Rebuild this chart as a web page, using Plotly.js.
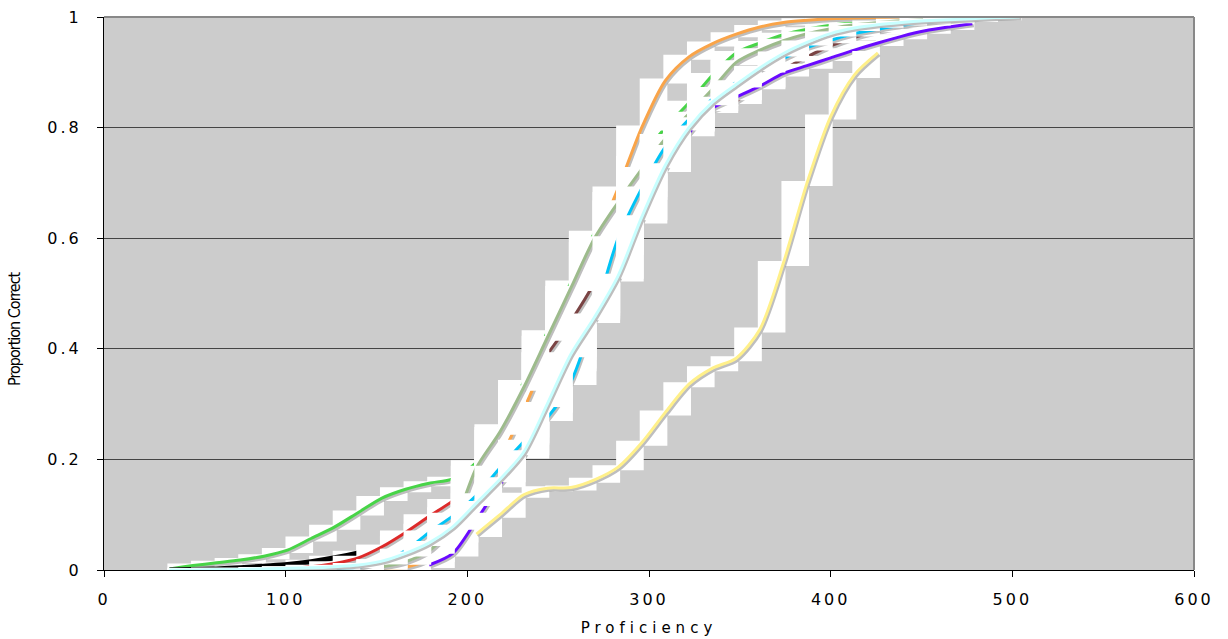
<!DOCTYPE html>
<html>
<head>
<meta charset="utf-8">
<script src="https://cdn.plot.ly/plotly-3.0.1.min.js"></script>
<style>
  html, body { margin: 0; padding: 0; background: #fff; }
  #chart { width: 1228px; height: 639px; }
  .xtick text, .ytick text { letter-spacing: 3px; }
  .g-xtitle text { letter-spacing: 5px; }
  .annotation-text { letter-spacing: -1px; }
</style>
</head>
<body>
<div id="chart"></div>
<script>
// Proficiency grid shared by every curve
const proficiency = [36,49,62,75,88,101,114,127,140,153,166,179,192,205,218,231,244,257,270,283,296,309,322,335,348,361,374,387,400,413,426,439,452,465,478,491,504];

// Proportion correct, one array per curve (null = no point)
const greenCurve = [0.002,0.008,0.013,0.018,0.025,0.036,0.057,0.078,0.104,0.13,0.146,0.157,0.165,0.195,0.26,0.34,0.43,0.52,0.61,0.68,0.745,0.80,0.845,0.895,0.935,0.953,0.968,0.978,0.985,0.99,0.993,0.995,0.997,0.998,null,null,null];
const blackCurve = [0,0.001,0.002,0.004,0.007,0.01,0.015,0.022,0.031,0.042,0.058,0.08,0.11,0.15,0.19,0.235,0.29,0.365,0.465,0.575,0.675,0.75,0.798,0.845,0.878,0.903,0.923,0.94,0.955,0.967,0.976,0.983,0.988,0.992,null,null,null];
const redCurve = [null,null,null,null,0.001,0.003,0.006,0.012,0.022,0.042,0.068,0.097,0.125,0.16,0.2,0.245,0.3,0.37,0.47,0.58,0.68,0.755,0.8,0.845,0.878,0.903,0.923,0.94,0.955,0.967,0.976,0.983,0.988,0.992,null,null,null];
const orangeCurve = [null,null,null,null,null,null,null,null,null,0.001,0.005,0.02,0.055,0.12,0.2,0.29,0.39,0.5,0.59,0.69,0.8,0.885,0.928,0.952,0.969,0.982,0.99,0.994,0.997,0.998,0.999,1.0,1.0,1.0,1.0,null,null];
const brownCurve = [null,null,null,null,null,null,null,null,0.002,0.008,0.025,0.055,0.1,0.16,0.255,0.33,0.39,0.45,0.52,0.61,0.71,0.785,0.818,0.832,0.848,0.878,0.905,0.928,0.948,0.963,0.974,0.983,0.99,0.994,0.997,null,null];
const purpleCurve = [null,null,null,null,null,null,null,null,null,null,null,0.009,0.03,0.09,0.155,0.207,0.293,0.385,0.452,0.527,0.632,0.725,0.79,0.835,0.855,0.875,0.898,0.912,0.926,0.94,0.953,0.965,0.975,0.982,0.988,null,null];
const sageCurve = [null,null,null,null,null,null,null,null,0.002,0.006,0.015,0.035,0.08,0.185,0.25,0.33,0.42,0.51,0.60,0.665,0.725,0.78,0.825,0.87,0.918,0.94,0.957,0.97,0.979,0.986,0.99,0.993,0.995,0.997,0.998,null,null];
const cyanCurve = [null,null,null,null,null,null,null,0.001,0.005,0.016,0.035,0.068,0.098,0.135,0.185,0.232,0.275,0.34,0.46,0.6,0.69,0.765,0.815,0.852,0.882,0.905,0.925,0.945,0.958,0.97,0.978,0.985,0.99,0.994,0.997,0.999,null];
const yellowCurve = [null,null,null,null,null,null,null,null,null,null,null,null,null,0.065,0.1,0.136,0.148,0.149,0.163,0.186,0.23,0.285,0.336,0.365,0.383,0.435,0.555,0.70,0.82,0.895,0.935,null,null,null,null,null,null];
const lightCyanCurve = [0,0,0.001,0.001,0.002,0.003,0.004,0.006,0.009,0.016,0.03,0.049,0.078,0.121,0.164,0.213,0.30,0.39,0.457,0.532,0.638,0.732,0.80,0.846,0.878,0.908,0.934,0.954,0.97,0.98,0.986,0.99,0.993,0.995,0.997,0.999,1.0];

// draw order (first = bottom)
const curves = [
  {y: greenCurve, color: '#48D448', w: 3},
  {y: blackCurve, color: '#000000', w: 5},
  {y: redCurve, color: '#DD2A2A', w: 3},
  {y: orangeCurve, color: '#F9A449', w: 3},
  {y: brownCurve, color: '#7A4444', w: 3},
  {y: purpleCurve, color: '#6A0AFF', w: 3},
  {y: sageCurve, color: '#9DBB8C', w: 3},
  {y: cyanCurve, color: '#00C4F6', w: 3},
  {y: yellowCurve, color: '#FFF08A', w: 3},
  {y: lightCyanCurve, color: '#C8FFFF', w: 3}
];

const pxX = 600 / 1090, pxY = 1 / 553;
const traces = [];
curves.forEach(c => {
  // white segment boxes
  const bx = [], by = [];
  for (let i = 0; i < proficiency.length - 1; i++) {
    const a = c.y[i], b = c.y[i + 1];
    if (a === null || b === null) continue;
    const x0 = proficiency[i] - 2 * pxX, x1 = proficiency[i + 1] + 2 * pxX;
    const lo = Math.min(a, b) - 3 * pxY, hi = Math.max(a, b) + 2 * pxY;
    bx.push(x0, x1, x1, x0, x0, null);
    by.push(lo, lo, hi, hi, lo, null);
  }
  traces.push({x: bx, y: by, mode: 'lines', fill: 'toself', fillcolor: '#FFFFFF',
    line: {width: 0, color: 'rgba(0,0,0,0)'}, hoverinfo: 'skip', showlegend: false});
  // shadow
  const sx = [], sy = [];
  proficiency.forEach((x, i) => { sx.push(c.y[i] === null ? null : x + 1.5 * pxX); sy.push(c.y[i] === null ? null : c.y[i] - 2 * pxY); });
  traces.push({x: sx, y: sy, mode: 'lines', line: {color: 'rgba(110,110,110,0.45)', width: c.w, shape: 'spline', smoothing: 0.8},
    hoverinfo: 'skip', showlegend: false});
  // curve
  traces.push({x: proficiency, y: c.y, mode: 'lines', line: {color: c.color, width: c.w, shape: 'spline', smoothing: 0.8},
    showlegend: false});
});

const layout = {
  width: 1228, height: 639,
  margin: {l: 104, r: 34, t: 17, b: 69, pad: 0},
  paper_bgcolor: '#FFFFFF', plot_bgcolor: '#CCCCCC',
  showlegend: false,
  xaxis: {
    range: [0, 600], tick0: 0, dtick: 100, showgrid: false, zeroline: false,
    showline: true, linecolor: '#000000', linewidth: 1,
    ticks: 'outside', ticklen: 6, tickcolor: '#000000',
    ticklabelstandoff: 9,
    tickfont: {family: 'DejaVu Sans', size: 16, color: '#000000'},
    title: {text: 'Proficiency', font: {family: 'DejaVu Sans', size: 15, color: '#000000'}, standoff: 14}
  },
  yaxis: {
    range: [0, 1], tick0: 0, dtick: 0.2, showgrid: true, gridcolor: '#444444', gridwidth: 1,
    zeroline: false, showline: true, linecolor: '#000000', linewidth: 1,
    ticks: 'outside', ticklen: 6, tickcolor: '#000000',
    ticklabelstandoff: 12,
    tickfont: {family: 'DejaVu Sans', size: 16, color: '#000000'}
  },
  shapes: [
    {type: 'line', xref: 'paper', yref: 'paper', x0: 0, x1: 1, y0: 1, y1: 1, line: {color: '#888888', width: 2}},
    {type: 'line', xref: 'paper', yref: 'paper', x0: 1, x1: 1, y0: 0, y1: 1, line: {color: '#888888', width: 2}}
  ],
  annotations: [
    {text: 'Proportion Correct', xref: 'paper', yref: 'paper', x: -0.0826, y: 0.4376,
     xanchor: 'center', yanchor: 'middle', textangle: -90, showarrow: false,
     font: {family: 'Liberation Sans Narrow, DejaVu Sans Condensed, Arial Narrow, sans-serif', size: 16, color: '#000000'}}
  ]
};

Plotly.newPlot('chart', traces, layout, {displayModeBar: false, staticPlot: true});
</script>
</body>
</html>
